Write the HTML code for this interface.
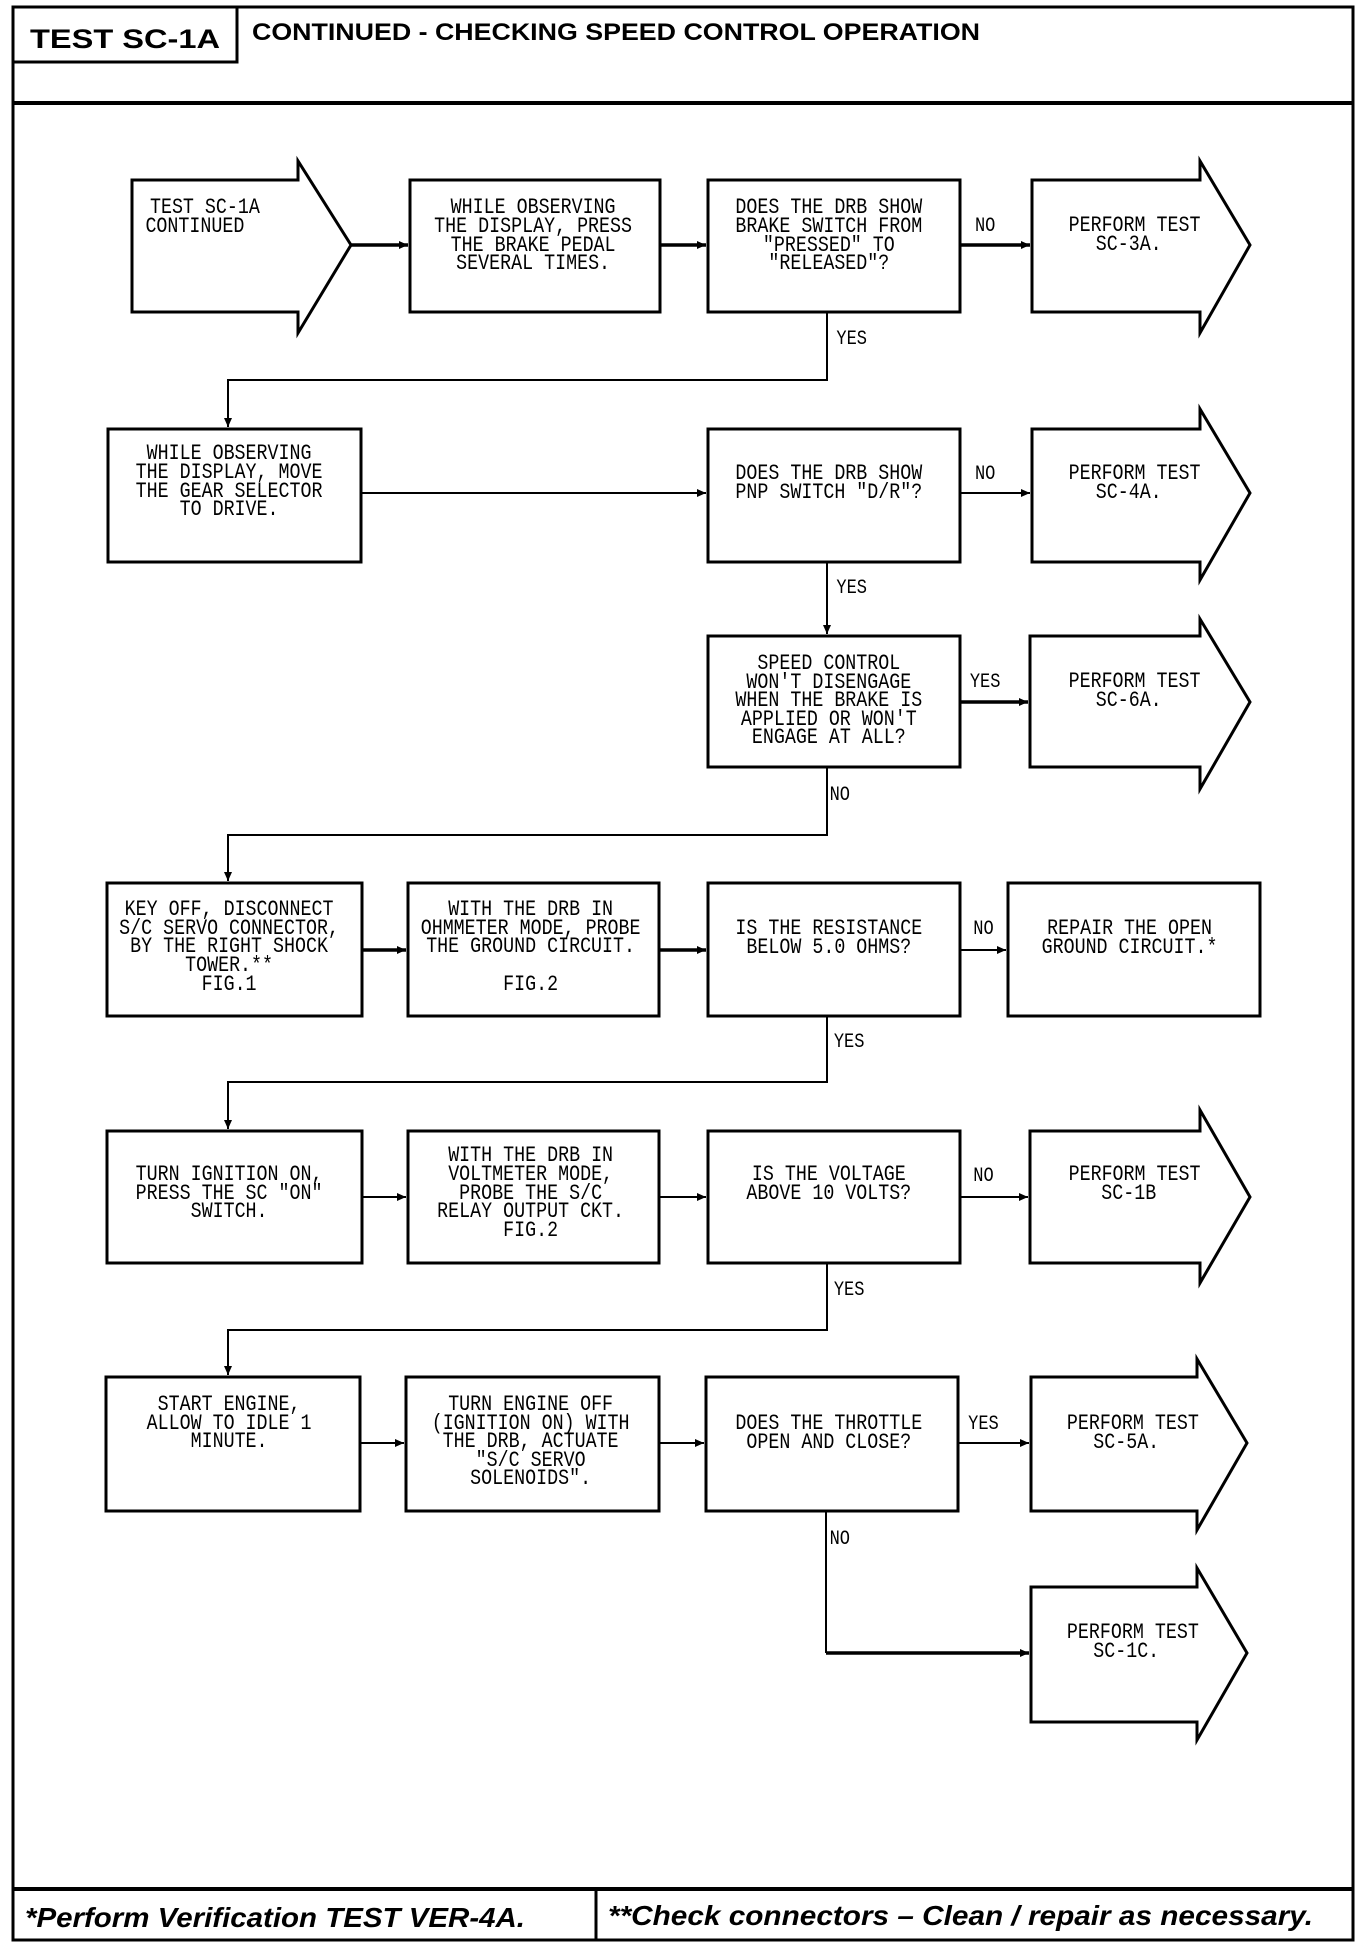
<!DOCTYPE html>
<html><head><meta charset="utf-8"><style>
html,body{margin:0;padding:0;background:#fff}
svg{display:block}
.t{font-family:"Liberation Mono",monospace;font-size:22px;fill:#000}
.l{font-family:"Liberation Mono",monospace;font-size:20px;fill:#000}
.b{fill:#fff;stroke:#000;stroke-width:3}
.c{fill:none;stroke:#000;stroke-width:2}
.ct{fill:none;stroke:#000;stroke-width:3.5}
</style></head><body>
<svg width="1360" height="1948" viewBox="0 0 1360 1948" xmlns="http://www.w3.org/2000/svg">
<defs><marker id="ah" markerWidth="10" markerHeight="10" refX="9" refY="5" orient="auto" markerUnits="userSpaceOnUse"><path d="M0,1 L9,5 L0,9 Z" fill="#000"/></marker></defs>
<rect x="13" y="7" width="1340" height="1933" fill="none" stroke="#000" stroke-width="3"/>
<rect x="13" y="7" width="224" height="55" fill="none" stroke="#000" stroke-width="3"/>
<line x1="13" y1="103" x2="1353" y2="103" stroke="#000" stroke-width="4"/>
<text x="125" y="48" text-anchor="middle" font-family="Liberation Sans,sans-serif" font-weight="bold" font-size="27" textLength="190" lengthAdjust="spacingAndGlyphs">TEST SC-1A</text>
<text x="252" y="40" font-family="Liberation Sans,sans-serif" font-weight="bold" font-size="24" textLength="728" lengthAdjust="spacingAndGlyphs">CONTINUED -  CHECKING SPEED CONTROL OPERATION</text>
<line x1="13" y1="1889" x2="1353" y2="1889" stroke="#000" stroke-width="4"/>
<line x1="596" y1="1889" x2="596" y2="1940" stroke="#000" stroke-width="3"/>
<text x="25" y="1927" font-family="Liberation Sans,sans-serif" font-weight="bold" font-style="italic" font-size="28" textLength="500" lengthAdjust="spacingAndGlyphs">*Perform Verification TEST VER-4A.</text>
<text x="608" y="1925" font-family="Liberation Sans,sans-serif" font-weight="bold" font-style="italic" font-size="28" textLength="705" lengthAdjust="spacingAndGlyphs">**Check connectors – Clean / repair as necessary.</text>

<path class="b" d="M132,180 H298 V161 L351,245 L298,333 V312 H132 Z"/>
<rect class="b" x="410" y="180" width="250" height="132"/>
<rect class="b" x="708" y="180" width="252" height="132"/>
<path class="b" d="M1032,180 H1200 V161 L1250,245 L1200,333 V312 H1032 Z"/>

<rect class="b" x="108" y="429" width="253" height="133"/>
<rect class="b" x="708" y="429" width="252" height="133"/>
<path class="b" d="M1032,429 H1200 V409 L1250,493 L1200,580 V562 H1032 Z"/>

<rect class="b" x="708" y="636" width="252" height="131"/>
<path class="b" d="M1030,636 H1200 V619 L1250,702 L1200,789 V767 H1030 Z"/>

<rect class="b" x="107" y="883" width="255" height="133"/>
<rect class="b" x="408" y="883" width="251" height="133"/>
<rect class="b" x="708" y="883" width="252" height="133"/>
<rect class="b" x="1008" y="883" width="252" height="133"/>

<rect class="b" x="107" y="1131" width="255" height="132"/>
<rect class="b" x="408" y="1131" width="251" height="132"/>
<rect class="b" x="708" y="1131" width="252" height="132"/>
<path class="b" d="M1030,1131 H1200 V1110 L1250,1197 L1200,1283 V1263 H1030 Z"/>

<rect class="b" x="106" y="1377" width="254" height="134"/>
<rect class="b" x="406" y="1377" width="253" height="134"/>
<rect class="b" x="706" y="1377" width="252" height="134"/>
<path class="b" d="M1031,1377 H1197 V1359 L1247,1443 L1197,1530 V1511 H1031 Z"/>
<path class="b" d="M1031,1587 H1197 V1568 L1247,1653 L1197,1740 V1722 H1031 Z"/>

<line class="ct" x1="351" y1="245" x2="408" y2="245" marker-end="url(#ah)"/>
<line class="ct" x1="660" y1="245" x2="706" y2="245" marker-end="url(#ah)"/>
<line class="ct" x1="960" y1="245" x2="1030" y2="245" marker-end="url(#ah)"/>
<path class="c" d="M827,312 V380 H228 V427" marker-end="url(#ah)"/>
<line class="c" x1="361" y1="493" x2="706" y2="493" marker-end="url(#ah)"/>
<line class="c" x1="960" y1="493" x2="1030" y2="493" marker-end="url(#ah)"/>
<line class="c" x1="827" y1="562" x2="827" y2="634" marker-end="url(#ah)"/>
<line class="ct" x1="960" y1="702" x2="1028" y2="702" marker-end="url(#ah)"/>
<path class="c" d="M827,767 V835 H228 V881" marker-end="url(#ah)"/>
<line class="ct" x1="362" y1="950" x2="406" y2="950" marker-end="url(#ah)"/>
<line class="ct" x1="659" y1="950" x2="706" y2="950" marker-end="url(#ah)"/>
<line class="c" x1="960" y1="950" x2="1006" y2="950" marker-end="url(#ah)"/>
<path class="c" d="M827,1016 V1082 H228 V1129" marker-end="url(#ah)"/>
<line class="c" x1="362" y1="1197" x2="406" y2="1197" marker-end="url(#ah)"/>
<line class="c" x1="659" y1="1197" x2="706" y2="1197" marker-end="url(#ah)"/>
<line class="c" x1="960" y1="1197" x2="1028" y2="1197" marker-end="url(#ah)"/>
<path class="c" d="M827,1263 V1330 H228 V1375" marker-end="url(#ah)"/>
<line class="c" x1="360" y1="1443" x2="404" y2="1443" marker-end="url(#ah)"/>
<line class="c" x1="659" y1="1443" x2="704" y2="1443" marker-end="url(#ah)"/>
<line class="c" x1="958" y1="1443" x2="1029" y2="1443" marker-end="url(#ah)"/>
<path class="c" d="M826,1511 V1653" />
<line class="ct" x1="826" y1="1653" x2="1029" y2="1653" marker-end="url(#ah)"/>

<g transform="scale(0.85,1)">
<g class="l" dominant-baseline="central">
<text x="1147" y="226">NO</text>
<text x="984" y="339">YES</text>
<text x="1147" y="474">NO</text>
<text x="984" y="588">YES</text>
<text x="1141" y="682">YES</text>
<text x="976" y="795">NO</text>
<text x="1145" y="929">NO</text>
<text x="981" y="1042">YES</text>
<text x="1145" y="1176">NO</text>
<text x="981" y="1290">YES</text>
<text x="1139" y="1424">YES</text>
<text x="976" y="1539">NO</text>
</g>
</g>

<g transform="scale(0.833,1)">
<g class="t" text-anchor="middle" dominant-baseline="central">
<text x="246" y="208">TEST SC-1A</text><text x="234" y="227">CONTINUED</text>
<text x="640" y="208">WHILE OBSERVING</text><text x="640" y="227">THE DISPLAY, PRESS</text><text x="640" y="246">THE BRAKE PEDAL</text><text x="640" y="264">SEVERAL TIMES.</text>
<text x="995" y="208">DOES THE DRB SHOW</text><text x="995" y="227">BRAKE SWITCH FROM</text><text x="995" y="246">"PRESSED" TO</text><text x="995" y="264">"RELEASED"?</text>
<text x="1362" y="226">PERFORM TEST</text><text x="1355" y="245">SC-3A.</text>

<text x="275" y="454">WHILE OBSERVING</text><text x="275" y="473">THE DISPLAY, MOVE</text><text x="275" y="492">THE GEAR SELECTOR</text><text x="275" y="510">TO DRIVE.</text>
<text x="995" y="474">DOES THE DRB SHOW</text><text x="995" y="493">PNP SWITCH "D/R"?</text>
<text x="1362" y="474">PERFORM TEST</text><text x="1355" y="493">SC-4A.</text>

<text x="995" y="664">SPEED CONTROL</text><text x="995" y="683">WON'T DISENGAGE</text><text x="995" y="701">WHEN THE BRAKE IS</text><text x="995" y="720">APPLIED OR WON'T</text><text x="995" y="738">ENGAGE AT ALL?</text>
<text x="1362" y="682">PERFORM TEST</text><text x="1355" y="701">SC-6A.</text>

<text x="275" y="910">KEY OFF, DISCONNECT</text><text x="275" y="929">S/C SERVO CONNECTOR,</text><text x="275" y="947">BY THE RIGHT SHOCK</text><text x="275" y="966">TOWER.**</text><text x="275" y="985">FIG.1</text>
<text x="637" y="910">WITH THE DRB IN</text><text x="637" y="929">OHMMETER MODE, PROBE</text><text x="637" y="947">THE GROUND CIRCUIT.</text><text x="637" y="985">FIG.2</text>
<text x="995" y="929">IS THE RESISTANCE</text><text x="995" y="948">BELOW 5.0 OHMS?</text>
<text x="1356" y="929">REPAIR THE OPEN</text><text x="1356" y="948">GROUND CIRCUIT.*</text>

<text x="275" y="1175">TURN IGNITION ON,</text><text x="275" y="1194">PRESS THE SC "ON"</text><text x="275" y="1212">SWITCH.</text>
<text x="637" y="1156">WITH THE DRB IN</text><text x="637" y="1175">VOLTMETER MODE,</text><text x="637" y="1194">PROBE THE S/C</text><text x="637" y="1212">RELAY OUTPUT CKT.</text><text x="637" y="1231">FIG.2</text>
<text x="995" y="1175">IS THE VOLTAGE</text><text x="995" y="1194">ABOVE 10 VOLTS?</text>
<text x="1362" y="1175">PERFORM TEST</text><text x="1355" y="1194">SC-1B</text>

<text x="275" y="1405">START ENGINE,</text><text x="275" y="1424">ALLOW TO IDLE 1</text><text x="275" y="1442">MINUTE.</text>
<text x="637" y="1405">TURN ENGINE OFF</text><text x="637" y="1424">(IGNITION ON) WITH</text><text x="637" y="1442">THE DRB, ACTUATE</text><text x="637" y="1461">"S/C SERVO</text><text x="637" y="1479">SOLENOIDS".</text>
<text x="995" y="1424">DOES THE THROTTLE</text><text x="995" y="1443">OPEN AND CLOSE?</text>
<text x="1360" y="1424">PERFORM TEST</text><text x="1352" y="1443">SC-5A.</text>
<text x="1360" y="1633">PERFORM TEST</text><text x="1352" y="1652">SC-1C.</text>
</g>
</g>
</svg>
</body></html>
